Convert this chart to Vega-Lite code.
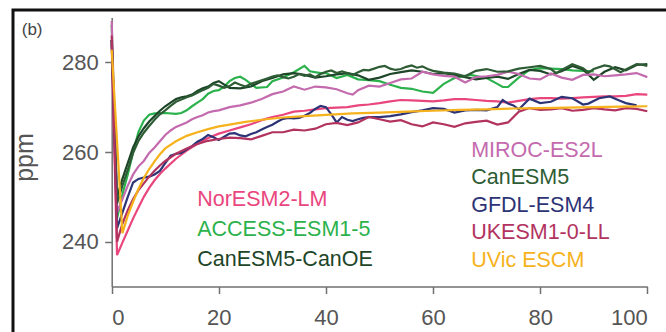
{
  "$schema": "https://vega.github.io/schema/vega-lite/v6.json",
  "autosize": "none",
  "width": 653,
  "height": 322,
  "padding": {"left": 13, "top": 10, "right": 0, "bottom": 0},
  "background": "white",
  "config": {
    "view": {"stroke": "#111111", "strokeWidth": 3, "strokeDash": [653, 975, 323, 1], "strokeCap": "square"},
    "axis": {"grid": false, "domainColor": "#707070", "domainWidth": 1.5, "tickColor": "#707070", "tickWidth": 1.5, "tickSize": 7, "labelFont": "Liberation Sans", "labelFontSize": 22, "labelColor": "#555555", "titleFont": "Liberation Sans", "titleFontSize": 25, "titleFontWeight": "normal", "titleColor": "#555555"}
  },
  "datasets": {
    "series": [
    {"m":"NorESM2-LM","t":0,"v":284},{"m":"NorESM2-LM","t":1,"v":237},{"m":"NorESM2-LM","t":2,"v":239.8},{"m":"NorESM2-LM","t":3,"v":242.5},{"m":"NorESM2-LM","t":4,"v":245.2},{"m":"NorESM2-LM","t":5,"v":247.6},{"m":"NorESM2-LM","t":6,"v":250},{"m":"NorESM2-LM","t":7,"v":252},{"m":"NorESM2-LM","t":8,"v":253.7},{"m":"NorESM2-LM","t":9,"v":255.1},{"m":"NorESM2-LM","t":10,"v":256.3},{"m":"NorESM2-LM","t":12,"v":258.5},{"m":"NorESM2-LM","t":14,"v":260.3},{"m":"NorESM2-LM","t":16,"v":261.8},{"m":"NorESM2-LM","t":18,"v":263.1},{"m":"NorESM2-LM","t":20,"v":264.1},{"m":"NorESM2-LM","t":22,"v":264.8},{"m":"NorESM2-LM","t":24,"v":265.5},{"m":"NorESM2-LM","t":26,"v":266.2},{"m":"NorESM2-LM","t":28,"v":267.1},{"m":"NorESM2-LM","t":30,"v":267.8},{"m":"NorESM2-LM","t":32,"v":268.3},{"m":"NorESM2-LM","t":34,"v":269},{"m":"NorESM2-LM","t":36,"v":269.2},{"m":"NorESM2-LM","t":38,"v":269.5},{"m":"NorESM2-LM","t":40,"v":269.8},{"m":"NorESM2-LM","t":42,"v":269.9},{"m":"NorESM2-LM","t":44,"v":270},{"m":"NorESM2-LM","t":46,"v":270.4},{"m":"NorESM2-LM","t":48,"v":270.6},{"m":"NorESM2-LM","t":50,"v":270.9},{"m":"NorESM2-LM","t":52,"v":271.3},{"m":"NorESM2-LM","t":54,"v":271.6},{"m":"NorESM2-LM","t":56,"v":271.5},{"m":"NorESM2-LM","t":58,"v":271.4},{"m":"NorESM2-LM","t":60,"v":271.3},{"m":"NorESM2-LM","t":62,"v":271.5},{"m":"NorESM2-LM","t":64,"v":271.8},{"m":"NorESM2-LM","t":66,"v":271.8},{"m":"NorESM2-LM","t":68,"v":271.6},{"m":"NorESM2-LM","t":70,"v":271.4},{"m":"NorESM2-LM","t":72,"v":271.3},{"m":"NorESM2-LM","t":74,"v":271},{"m":"NorESM2-LM","t":76,"v":271.4},{"m":"NorESM2-LM","t":78,"v":271.8},{"m":"NorESM2-LM","t":80,"v":272},{"m":"NorESM2-LM","t":82,"v":272},{"m":"NorESM2-LM","t":84,"v":271.9},{"m":"NorESM2-LM","t":86,"v":272},{"m":"NorESM2-LM","t":88,"v":272.2},{"m":"NorESM2-LM","t":90,"v":272.3},{"m":"NorESM2-LM","t":92,"v":272.4},{"m":"NorESM2-LM","t":94,"v":272.4},{"m":"NorESM2-LM","t":96,"v":272.5},{"m":"NorESM2-LM","t":98,"v":272.9},{"m":"NorESM2-LM","t":100,"v":272.8},

    {"m":"ACCESS-ESM1-5","t":0,"v":288.4},{"m":"ACCESS-ESM1-5","t":1,"v":245.2},{"m":"ACCESS-ESM1-5","t":2,"v":250.5},{"m":"ACCESS-ESM1-5","t":3,"v":255},{"m":"ACCESS-ESM1-5","t":4,"v":260},{"m":"ACCESS-ESM1-5","t":5,"v":264.5},{"m":"ACCESS-ESM1-5","t":6,"v":267},{"m":"ACCESS-ESM1-5","t":7,"v":268.3},{"m":"ACCESS-ESM1-5","t":8,"v":268.6},{"m":"ACCESS-ESM1-5","t":10,"v":268.7},{"m":"ACCESS-ESM1-5","t":12,"v":268.5},{"m":"ACCESS-ESM1-5","t":13,"v":268.7},{"m":"ACCESS-ESM1-5","t":14,"v":269.3},{"m":"ACCESS-ESM1-5","t":15,"v":270.2},{"m":"ACCESS-ESM1-5","t":16,"v":271},{"m":"ACCESS-ESM1-5","t":17,"v":271.8},{"m":"ACCESS-ESM1-5","t":18,"v":273},{"m":"ACCESS-ESM1-5","t":19,"v":273.6},{"m":"ACCESS-ESM1-5","t":20,"v":273.8},{"m":"ACCESS-ESM1-5","t":21,"v":274.6},{"m":"ACCESS-ESM1-5","t":22,"v":275.8},{"m":"ACCESS-ESM1-5","t":23,"v":276.5},{"m":"ACCESS-ESM1-5","t":24,"v":276.8},{"m":"ACCESS-ESM1-5","t":25,"v":276.1},{"m":"ACCESS-ESM1-5","t":27,"v":274.3},{"m":"ACCESS-ESM1-5","t":29,"v":274.5},{"m":"ACCESS-ESM1-5","t":30,"v":275.8},{"m":"ACCESS-ESM1-5","t":32,"v":276.6},{"m":"ACCESS-ESM1-5","t":34,"v":277.8},{"m":"ACCESS-ESM1-5","t":36,"v":279.2},{"m":"ACCESS-ESM1-5","t":37,"v":278},{"m":"ACCESS-ESM1-5","t":39,"v":277.6},{"m":"ACCESS-ESM1-5","t":40,"v":277.6},{"m":"ACCESS-ESM1-5","t":42,"v":276.5},{"m":"ACCESS-ESM1-5","t":44,"v":277.2},{"m":"ACCESS-ESM1-5","t":46,"v":276.2},{"m":"ACCESS-ESM1-5","t":48,"v":276},{"m":"ACCESS-ESM1-5","t":50,"v":275.8},{"m":"ACCESS-ESM1-5","t":52,"v":275},{"m":"ACCESS-ESM1-5","t":54,"v":274.3},{"m":"ACCESS-ESM1-5","t":56,"v":274.1},{"m":"ACCESS-ESM1-5","t":58,"v":273.5},{"m":"ACCESS-ESM1-5","t":60,"v":273.2},{"m":"ACCESS-ESM1-5","t":62,"v":275.2},{"m":"ACCESS-ESM1-5","t":64,"v":276.5},{"m":"ACCESS-ESM1-5","t":66,"v":277},{"m":"ACCESS-ESM1-5","t":67,"v":277.2},{"m":"ACCESS-ESM1-5","t":69,"v":276.7},{"m":"ACCESS-ESM1-5","t":70,"v":276.5},{"m":"ACCESS-ESM1-5","t":72,"v":275.2},{"m":"ACCESS-ESM1-5","t":73,"v":274.5},{"m":"ACCESS-ESM1-5","t":74,"v":274.5},{"m":"ACCESS-ESM1-5","t":76,"v":276.6},{"m":"ACCESS-ESM1-5","t":78,"v":278.3},{"m":"ACCESS-ESM1-5","t":80,"v":278.7},{"m":"ACCESS-ESM1-5","t":82,"v":278.6},{"m":"ACCESS-ESM1-5","t":84,"v":278.5},{"m":"ACCESS-ESM1-5","t":86,"v":278.2},{"m":"ACCESS-ESM1-5","t":88,"v":278.1},{"m":"ACCESS-ESM1-5","t":90,"v":278},

    {"m":"CanESM5-CanOE","t":0,"v":285},{"m":"CanESM5-CanOE","t":1,"v":250},{"m":"CanESM5-CanOE","t":2,"v":254},{"m":"CanESM5-CanOE","t":3,"v":257.5},{"m":"CanESM5-CanOE","t":4,"v":261},{"m":"CanESM5-CanOE","t":5,"v":263.5},{"m":"CanESM5-CanOE","t":6,"v":265.3},{"m":"CanESM5-CanOE","t":7,"v":266.8},{"m":"CanESM5-CanOE","t":8,"v":268},{"m":"CanESM5-CanOE","t":9,"v":269.2},{"m":"CanESM5-CanOE","t":10,"v":270.2},{"m":"CanESM5-CanOE","t":11,"v":271},{"m":"CanESM5-CanOE","t":12,"v":271.8},{"m":"CanESM5-CanOE","t":13,"v":272.2},{"m":"CanESM5-CanOE","t":14,"v":272.4},{"m":"CanESM5-CanOE","t":15,"v":272.8},{"m":"CanESM5-CanOE","t":16,"v":273.6},{"m":"CanESM5-CanOE","t":17,"v":274.2},{"m":"CanESM5-CanOE","t":18,"v":274.6},{"m":"CanESM5-CanOE","t":19,"v":275.4},{"m":"CanESM5-CanOE","t":20,"v":275.8},{"m":"CanESM5-CanOE","t":22,"v":274.3},{"m":"CanESM5-CanOE","t":24,"v":274.2},{"m":"CanESM5-CanOE","t":26,"v":274.6},{"m":"CanESM5-CanOE","t":28,"v":275.8},{"m":"CanESM5-CanOE","t":30,"v":276.5},{"m":"CanESM5-CanOE","t":32,"v":277.3},{"m":"CanESM5-CanOE","t":34,"v":277.6},{"m":"CanESM5-CanOE","t":36,"v":277.2},{"m":"CanESM5-CanOE","t":38,"v":276.6},{"m":"CanESM5-CanOE","t":40,"v":276.9},{"m":"CanESM5-CanOE","t":42,"v":277.3},{"m":"CanESM5-CanOE","t":44,"v":277.6},{"m":"CanESM5-CanOE","t":46,"v":277.1},{"m":"CanESM5-CanOE","t":48,"v":276.1},{"m":"CanESM5-CanOE","t":50,"v":276.6},{"m":"CanESM5-CanOE","t":52,"v":277.4},{"m":"CanESM5-CanOE","t":54,"v":277.8},{"m":"CanESM5-CanOE","t":56,"v":278.2},{"m":"CanESM5-CanOE","t":58,"v":277.9},{"m":"CanESM5-CanOE","t":60,"v":277.4},{"m":"CanESM5-CanOE","t":62,"v":277.6},{"m":"CanESM5-CanOE","t":64,"v":277.2},{"m":"CanESM5-CanOE","t":66,"v":276.7},{"m":"CanESM5-CanOE","t":68,"v":276.2},{"m":"CanESM5-CanOE","t":70,"v":276.5},{"m":"CanESM5-CanOE","t":72,"v":276.8},{"m":"CanESM5-CanOE","t":74,"v":276.3},{"m":"CanESM5-CanOE","t":76,"v":277.4},{"m":"CanESM5-CanOE","t":78,"v":278.3},{"m":"CanESM5-CanOE","t":80,"v":278.1},{"m":"CanESM5-CanOE","t":82,"v":277.3},{"m":"CanESM5-CanOE","t":84,"v":278},{"m":"CanESM5-CanOE","t":86,"v":279.2},{"m":"CanESM5-CanOE","t":88,"v":278.4},{"m":"CanESM5-CanOE","t":90,"v":276.1},{"m":"CanESM5-CanOE","t":92,"v":277.9},{"m":"CanESM5-CanOE","t":94,"v":278.9},{"m":"CanESM5-CanOE","t":96,"v":278.2},{"m":"CanESM5-CanOE","t":98,"v":279.4},{"m":"CanESM5-CanOE","t":100,"v":279.6},

    {"m":"MIROC-ES2L","t":0,"v":289.2},{"m":"MIROC-ES2L","t":1,"v":246.5},{"m":"MIROC-ES2L","t":2,"v":249.5},{"m":"MIROC-ES2L","t":3,"v":252.5},{"m":"MIROC-ES2L","t":4,"v":255},{"m":"MIROC-ES2L","t":5,"v":256.8},{"m":"MIROC-ES2L","t":6,"v":258},{"m":"MIROC-ES2L","t":7,"v":259.8},{"m":"MIROC-ES2L","t":8,"v":261},{"m":"MIROC-ES2L","t":9,"v":262.4},{"m":"MIROC-ES2L","t":10,"v":263.8},{"m":"MIROC-ES2L","t":11,"v":264.8},{"m":"MIROC-ES2L","t":12,"v":265.6},{"m":"MIROC-ES2L","t":13,"v":266.1},{"m":"MIROC-ES2L","t":14,"v":266.6},{"m":"MIROC-ES2L","t":15,"v":267.3},{"m":"MIROC-ES2L","t":16,"v":267.8},{"m":"MIROC-ES2L","t":17,"v":268.2},{"m":"MIROC-ES2L","t":18,"v":268.8},{"m":"MIROC-ES2L","t":19,"v":269.1},{"m":"MIROC-ES2L","t":20,"v":269.3},{"m":"MIROC-ES2L","t":22,"v":270},{"m":"MIROC-ES2L","t":24,"v":270.4},{"m":"MIROC-ES2L","t":26,"v":271},{"m":"MIROC-ES2L","t":28,"v":271.8},{"m":"MIROC-ES2L","t":30,"v":272.9},{"m":"MIROC-ES2L","t":32,"v":273.5},{"m":"MIROC-ES2L","t":34,"v":274.6},{"m":"MIROC-ES2L","t":36,"v":273.9},{"m":"MIROC-ES2L","t":38,"v":274.6},{"m":"MIROC-ES2L","t":40,"v":274.4},{"m":"MIROC-ES2L","t":42,"v":274},{"m":"MIROC-ES2L","t":44,"v":273.1},{"m":"MIROC-ES2L","t":45,"v":272.8},{"m":"MIROC-ES2L","t":46,"v":273.8},{"m":"MIROC-ES2L","t":48,"v":274.8},{"m":"MIROC-ES2L","t":50,"v":274.6},{"m":"MIROC-ES2L","t":52,"v":275.4},{"m":"MIROC-ES2L","t":54,"v":276.2},{"m":"MIROC-ES2L","t":56,"v":276.4},{"m":"MIROC-ES2L","t":58,"v":277.9},{"m":"MIROC-ES2L","t":60,"v":277.3},{"m":"MIROC-ES2L","t":62,"v":277},{"m":"MIROC-ES2L","t":64,"v":276.8},{"m":"MIROC-ES2L","t":66,"v":275.5},{"m":"MIROC-ES2L","t":68,"v":276.7},{"m":"MIROC-ES2L","t":70,"v":276.9},{"m":"MIROC-ES2L","t":72,"v":277.2},{"m":"MIROC-ES2L","t":74,"v":277.9},{"m":"MIROC-ES2L","t":76,"v":277.4},{"m":"MIROC-ES2L","t":78,"v":276.4},{"m":"MIROC-ES2L","t":80,"v":276.2},{"m":"MIROC-ES2L","t":82,"v":277.5},{"m":"MIROC-ES2L","t":84,"v":276.6},{"m":"MIROC-ES2L","t":86,"v":276.1},{"m":"MIROC-ES2L","t":88,"v":277.2},{"m":"MIROC-ES2L","t":90,"v":277.3},{"m":"MIROC-ES2L","t":92,"v":276.9},{"m":"MIROC-ES2L","t":94,"v":277.1},{"m":"MIROC-ES2L","t":96,"v":277.3},{"m":"MIROC-ES2L","t":98,"v":277.6},{"m":"MIROC-ES2L","t":100,"v":276.7},

    {"m":"CanESM5","t":0,"v":285},{"m":"CanESM5","t":1,"v":248.5},{"m":"CanESM5","t":2,"v":252.5},{"m":"CanESM5","t":3,"v":256},{"m":"CanESM5","t":4,"v":259.8},{"m":"CanESM5","t":5,"v":262.5},{"m":"CanESM5","t":6,"v":264.3},{"m":"CanESM5","t":7,"v":265.8},{"m":"CanESM5","t":8,"v":267.2},{"m":"CanESM5","t":9,"v":268.4},{"m":"CanESM5","t":10,"v":269.3},{"m":"CanESM5","t":11,"v":270.3},{"m":"CanESM5","t":12,"v":271.2},{"m":"CanESM5","t":13,"v":271.7},{"m":"CanESM5","t":14,"v":272.2},{"m":"CanESM5","t":15,"v":272.6},{"m":"CanESM5","t":16,"v":273.2},{"m":"CanESM5","t":17,"v":273.8},{"m":"CanESM5","t":18,"v":274.3},{"m":"CanESM5","t":19,"v":275.2},{"m":"CanESM5","t":20,"v":274.8},{"m":"CanESM5","t":21,"v":274.3},{"m":"CanESM5","t":22,"v":274.7},{"m":"CanESM5","t":23,"v":275.5},{"m":"CanESM5","t":24,"v":275},{"m":"CanESM5","t":25,"v":274.6},{"m":"CanESM5","t":26,"v":275.2},{"m":"CanESM5","t":27,"v":275.6},{"m":"CanESM5","t":28,"v":276},{"m":"CanESM5","t":29,"v":276.4},{"m":"CanESM5","t":30,"v":276.8},{"m":"CanESM5","t":31,"v":277.1},{"m":"CanESM5","t":32,"v":276.7},{"m":"CanESM5","t":33,"v":276.4},{"m":"CanESM5","t":34,"v":276.8},{"m":"CanESM5","t":35,"v":277.4},{"m":"CanESM5","t":36,"v":277},{"m":"CanESM5","t":37,"v":277.3},{"m":"CanESM5","t":38,"v":276.7},{"m":"CanESM5","t":39,"v":277.4},{"m":"CanESM5","t":40,"v":277.9},{"m":"CanESM5","t":41,"v":278.2},{"m":"CanESM5","t":42,"v":277.6},{"m":"CanESM5","t":43,"v":278},{"m":"CanESM5","t":44,"v":277.6},{"m":"CanESM5","t":45,"v":277.2},{"m":"CanESM5","t":46,"v":277.8},{"m":"CanESM5","t":47,"v":278.3},{"m":"CanESM5","t":48,"v":278.2},{"m":"CanESM5","t":49,"v":278.6},{"m":"CanESM5","t":50,"v":279},{"m":"CanESM5","t":51,"v":279.2},{"m":"CanESM5","t":52,"v":278.6},{"m":"CanESM5","t":53,"v":278.3},{"m":"CanESM5","t":54,"v":278.5},{"m":"CanESM5","t":55,"v":279},{"m":"CanESM5","t":56,"v":279.3},{"m":"CanESM5","t":57,"v":278.8},{"m":"CanESM5","t":58,"v":279.1},{"m":"CanESM5","t":59,"v":278.5},{"m":"CanESM5","t":60,"v":278.1},{"m":"CanESM5","t":62,"v":277.7},{"m":"CanESM5","t":64,"v":277.5},{"m":"CanESM5","t":66,"v":276.9},{"m":"CanESM5","t":67,"v":277.5},{"m":"CanESM5","t":68,"v":278.1},{"m":"CanESM5","t":70,"v":278.5},{"m":"CanESM5","t":72,"v":277.9},{"m":"CanESM5","t":74,"v":278},{"m":"CanESM5","t":76,"v":278.6},{"m":"CanESM5","t":78,"v":278.9},{"m":"CanESM5","t":80,"v":279.2},{"m":"CanESM5","t":82,"v":278.5},{"m":"CanESM5","t":83,"v":277.6},{"m":"CanESM5","t":84,"v":278.3},{"m":"CanESM5","t":86,"v":279.6},{"m":"CanESM5","t":88,"v":278.7},{"m":"CanESM5","t":89,"v":277.7},{"m":"CanESM5","t":90,"v":278.5},{"m":"CanESM5","t":92,"v":279.3},{"m":"CanESM5","t":93,"v":279.1},{"m":"CanESM5","t":95,"v":277.8},{"m":"CanESM5","t":96,"v":278.4},{"m":"CanESM5","t":98,"v":279.6},{"m":"CanESM5","t":99,"v":279.5},{"m":"CanESM5","t":100,"v":279.2},

    {"m":"GFDL-ESM4","t":0,"v":285},{"m":"GFDL-ESM4","t":1,"v":243},{"m":"GFDL-ESM4","t":2,"v":246.5},{"m":"GFDL-ESM4","t":3,"v":250},{"m":"GFDL-ESM4","t":4,"v":253.2},{"m":"GFDL-ESM4","t":5,"v":254},{"m":"GFDL-ESM4","t":6,"v":254.3},{"m":"GFDL-ESM4","t":7,"v":254.5},{"m":"GFDL-ESM4","t":8,"v":255},{"m":"GFDL-ESM4","t":9,"v":255.8},{"m":"GFDL-ESM4","t":10,"v":257.5},{"m":"GFDL-ESM4","t":11,"v":259.2},{"m":"GFDL-ESM4","t":12,"v":259.6},{"m":"GFDL-ESM4","t":13,"v":259.8},{"m":"GFDL-ESM4","t":14,"v":260.6},{"m":"GFDL-ESM4","t":15,"v":261.3},{"m":"GFDL-ESM4","t":16,"v":262.3},{"m":"GFDL-ESM4","t":17,"v":262.9},{"m":"GFDL-ESM4","t":18,"v":263.8},{"m":"GFDL-ESM4","t":19,"v":263.3},{"m":"GFDL-ESM4","t":20,"v":262.7},{"m":"GFDL-ESM4","t":21,"v":263.4},{"m":"GFDL-ESM4","t":22,"v":264.1},{"m":"GFDL-ESM4","t":23,"v":264.2},{"m":"GFDL-ESM4","t":24,"v":263.7},{"m":"GFDL-ESM4","t":25,"v":263.5},{"m":"GFDL-ESM4","t":26,"v":264},{"m":"GFDL-ESM4","t":27,"v":264.4},{"m":"GFDL-ESM4","t":28,"v":265},{"m":"GFDL-ESM4","t":29,"v":265.6},{"m":"GFDL-ESM4","t":30,"v":266.1},{"m":"GFDL-ESM4","t":31,"v":266.8},{"m":"GFDL-ESM4","t":32,"v":267.4},{"m":"GFDL-ESM4","t":33,"v":267.6},{"m":"GFDL-ESM4","t":34,"v":267.5},{"m":"GFDL-ESM4","t":35,"v":267.6},{"m":"GFDL-ESM4","t":36,"v":268.1},{"m":"GFDL-ESM4","t":37,"v":268.7},{"m":"GFDL-ESM4","t":38,"v":269.6},{"m":"GFDL-ESM4","t":39,"v":270.3},{"m":"GFDL-ESM4","t":40,"v":270},{"m":"GFDL-ESM4","t":41,"v":268.4},{"m":"GFDL-ESM4","t":42,"v":266.6},{"m":"GFDL-ESM4","t":43,"v":267.8},{"m":"GFDL-ESM4","t":44,"v":267.2},{"m":"GFDL-ESM4","t":45,"v":266.9},{"m":"GFDL-ESM4","t":46,"v":267.3},{"m":"GFDL-ESM4","t":47,"v":267.6},{"m":"GFDL-ESM4","t":48,"v":267.8},{"m":"GFDL-ESM4","t":50,"v":267.8},{"m":"GFDL-ESM4","t":52,"v":268},{"m":"GFDL-ESM4","t":54,"v":268.4},{"m":"GFDL-ESM4","t":56,"v":268.9},{"m":"GFDL-ESM4","t":58,"v":269.3},{"m":"GFDL-ESM4","t":60,"v":269.8},{"m":"GFDL-ESM4","t":62,"v":269.6},{"m":"GFDL-ESM4","t":64,"v":268.8},{"m":"GFDL-ESM4","t":66,"v":269.3},{"m":"GFDL-ESM4","t":68,"v":269.4},{"m":"GFDL-ESM4","t":70,"v":269.3},{"m":"GFDL-ESM4","t":72,"v":270},{"m":"GFDL-ESM4","t":73,"v":271.6},{"m":"GFDL-ESM4","t":74,"v":270.8},{"m":"GFDL-ESM4","t":75,"v":270.4},{"m":"GFDL-ESM4","t":76,"v":269.5},{"m":"GFDL-ESM4","t":78,"v":271.9},{"m":"GFDL-ESM4","t":80,"v":270.9},{"m":"GFDL-ESM4","t":82,"v":271.2},{"m":"GFDL-ESM4","t":84,"v":272.3},{"m":"GFDL-ESM4","t":86,"v":272},{"m":"GFDL-ESM4","t":88,"v":270.6},{"m":"GFDL-ESM4","t":89,"v":270.8},{"m":"GFDL-ESM4","t":91,"v":272},{"m":"GFDL-ESM4","t":93,"v":272.4},{"m":"GFDL-ESM4","t":95,"v":271.4},{"m":"GFDL-ESM4","t":96,"v":270.9},{"m":"GFDL-ESM4","t":98,"v":270.4},

    {"m":"UKESM1-0-LL","t":0,"v":286},{"m":"UKESM1-0-LL","t":1,"v":240},{"m":"UKESM1-0-LL","t":2,"v":244},{"m":"UKESM1-0-LL","t":3,"v":247},{"m":"UKESM1-0-LL","t":4,"v":249.5},{"m":"UKESM1-0-LL","t":5,"v":251.5},{"m":"UKESM1-0-LL","t":6,"v":253},{"m":"UKESM1-0-LL","t":7,"v":254.5},{"m":"UKESM1-0-LL","t":8,"v":255.8},{"m":"UKESM1-0-LL","t":9,"v":257},{"m":"UKESM1-0-LL","t":10,"v":258},{"m":"UKESM1-0-LL","t":12,"v":259.6},{"m":"UKESM1-0-LL","t":14,"v":260.8},{"m":"UKESM1-0-LL","t":16,"v":261.8},{"m":"UKESM1-0-LL","t":18,"v":262.5},{"m":"UKESM1-0-LL","t":20,"v":262.9},{"m":"UKESM1-0-LL","t":22,"v":263.2},{"m":"UKESM1-0-LL","t":24,"v":263.1},{"m":"UKESM1-0-LL","t":26,"v":262.8},{"m":"UKESM1-0-LL","t":28,"v":263.6},{"m":"UKESM1-0-LL","t":30,"v":264.4},{"m":"UKESM1-0-LL","t":32,"v":264.4},{"m":"UKESM1-0-LL","t":34,"v":265},{"m":"UKESM1-0-LL","t":36,"v":264.8},{"m":"UKESM1-0-LL","t":38,"v":265.2},{"m":"UKESM1-0-LL","t":40,"v":266.2},{"m":"UKESM1-0-LL","t":42,"v":266.5},{"m":"UKESM1-0-LL","t":44,"v":266},{"m":"UKESM1-0-LL","t":46,"v":266.6},{"m":"UKESM1-0-LL","t":48,"v":267.8},{"m":"UKESM1-0-LL","t":50,"v":267.3},{"m":"UKESM1-0-LL","t":52,"v":266.8},{"m":"UKESM1-0-LL","t":54,"v":267.1},{"m":"UKESM1-0-LL","t":56,"v":266.2},{"m":"UKESM1-0-LL","t":58,"v":265.7},{"m":"UKESM1-0-LL","t":60,"v":266.6},{"m":"UKESM1-0-LL","t":62,"v":266.2},{"m":"UKESM1-0-LL","t":64,"v":265.6},{"m":"UKESM1-0-LL","t":66,"v":266.4},{"m":"UKESM1-0-LL","t":68,"v":266.7},{"m":"UKESM1-0-LL","t":70,"v":267},{"m":"UKESM1-0-LL","t":72,"v":266.1},{"m":"UKESM1-0-LL","t":74,"v":266.6},{"m":"UKESM1-0-LL","t":76,"v":269},{"m":"UKESM1-0-LL","t":78,"v":269.8},{"m":"UKESM1-0-LL","t":80,"v":269.4},{"m":"UKESM1-0-LL","t":82,"v":269.5},{"m":"UKESM1-0-LL","t":84,"v":269.8},{"m":"UKESM1-0-LL","t":86,"v":269.2},{"m":"UKESM1-0-LL","t":88,"v":269.4},{"m":"UKESM1-0-LL","t":90,"v":269.8},{"m":"UKESM1-0-LL","t":92,"v":269.5},{"m":"UKESM1-0-LL","t":94,"v":269.3},{"m":"UKESM1-0-LL","t":96,"v":269.8},{"m":"UKESM1-0-LL","t":98,"v":269.6},{"m":"UKESM1-0-LL","t":100,"v":269.1},

    {"m":"UVic ESCM","t":0,"v":282.8},{"m":"UVic ESCM","t":2,"v":241.9},{"m":"UVic ESCM","t":3,"v":245.8},{"m":"UVic ESCM","t":4,"v":248.9},{"m":"UVic ESCM","t":5,"v":251.8},{"m":"UVic ESCM","t":6,"v":254.2},{"m":"UVic ESCM","t":7,"v":256.2},{"m":"UVic ESCM","t":8,"v":257.9},{"m":"UVic ESCM","t":9,"v":259.5},{"m":"UVic ESCM","t":10,"v":260.8},{"m":"UVic ESCM","t":12,"v":262.4},{"m":"UVic ESCM","t":14,"v":263.6},{"m":"UVic ESCM","t":16,"v":264.4},{"m":"UVic ESCM","t":18,"v":265.1},{"m":"UVic ESCM","t":20,"v":265.7},{"m":"UVic ESCM","t":22,"v":266.1},{"m":"UVic ESCM","t":25,"v":266.7},{"m":"UVic ESCM","t":28,"v":267.2},{"m":"UVic ESCM","t":32,"v":267.7},{"m":"UVic ESCM","t":36,"v":268},{"m":"UVic ESCM","t":40,"v":268.3},{"m":"UVic ESCM","t":45,"v":268.6},{"m":"UVic ESCM","t":50,"v":268.8},{"m":"UVic ESCM","t":55,"v":269},{"m":"UVic ESCM","t":60,"v":269.2},{"m":"UVic ESCM","t":65,"v":269.4},{"m":"UVic ESCM","t":70,"v":269.5},{"m":"UVic ESCM","t":75,"v":269.7},{"m":"UVic ESCM","t":80,"v":269.8},{"m":"UVic ESCM","t":85,"v":269.9},{"m":"UVic ESCM","t":90,"v":270},{"m":"UVic ESCM","t":95,"v":270.1},{"m":"UVic ESCM","t":100,"v":270.2}
    ],
    "panel": [{"label": "(b)"}]
  },
  "layer": [
    {
      "data": {"name": "series"},
      "transform": [{"filter": {"field": "m", "oneOf": ["NorESM2-LM", "ACCESS-ESM1-5", "CanESM5-CanOE"]}}],
      "mark": {"type": "line", "strokeWidth": 2.2, "clip": false},
      "encoding": {
        "x": {"field": "t", "type": "quantitative",
              "scale": {"domain": [0, 100], "range": [98.7, 634.3], "nice": false, "zero": false},
              "axis": {"values": [0, 20, 40, 60, 80, 100], "offset": -45.5, "labelPadding": 14, "title": null}},
        "y": {"field": "v", "type": "quantitative",
              "scale": {"domain": [230, 290], "range": [276.5, 7.5], "nice": false, "zero": false},
              "axis": {"values": [240, 260, 280], "offset": -98.7, "labelPadding": 6.5, "title": "ppm", "titleBaseline": "alphabetic", "titleAnchor": "middle", "titleX": -79, "titleY": 147}},
        "color": {"field": "m", "type": "nominal",
          "scale": {"domain": ["NorESM2-LM", "ACCESS-ESM1-5", "CanESM5-CanOE"], "range": ["#e9467e", "#2cb24c", "#1d4527"]},
          "legend": {"orient": "none", "legendX": 162.7, "legendY": 179.5, "title": null, "padding": 0,
            "labelFont": "Liberation Sans", "labelFontSize": 21.5, "labelLimit": 400, "labelOffset": 0,
            "symbolSize": 0, "symbolOpacity": 0, "symbolStrokeWidth": 0, "rowPadding": 7,
            "encode": {"labels": {"update": {"fill": {"signal": "datum.value === 'NorESM2-LM' ? '#e9467e' : datum.value === 'ACCESS-ESM1-5' ? '#2cb24c' : '#1d4527'"}}}}}}
      }
    },
    {
      "data": {"name": "series"},
      "transform": [{"filter": {"field": "m", "oneOf": ["MIROC-ES2L", "CanESM5", "GFDL-ESM4", "UKESM1-0-LL", "UVic ESCM"]}}],
      "mark": {"type": "line", "strokeWidth": 2.2, "clip": false},
      "encoding": {
        "x": {"field": "t", "type": "quantitative"},
        "y": {"field": "v", "type": "quantitative"},
        "color": {"field": "m", "type": "nominal",
          "scale": {"domain": ["MIROC-ES2L", "CanESM5", "GFDL-ESM4", "UKESM1-0-LL", "UVic ESCM"], "range": ["#c46aae", "#2e5c35", "#2d3476", "#b2335f", "#f6b21c"]},
          "legend": {"orient": "none", "legendX": 436.7, "legendY": 130, "title": null, "padding": 0,
            "labelFont": "Liberation Sans", "labelFontSize": 21.5, "labelLimit": 400, "labelOffset": 0,
            "symbolSize": 0, "symbolOpacity": 0, "symbolStrokeWidth": 0, "rowPadding": 4.5,
            "encode": {"labels": {"update": {"fill": {"signal": "datum.value === 'MIROC-ES2L' ? '#c46aae' : datum.value === 'CanESM5' ? '#2e5c35' : datum.value === 'GFDL-ESM4' ? '#2d3476' : datum.value === 'UKESM1-0-LL' ? '#b2335f' : '#f6b21c'"}}}}}}
      }
    },
    {
      "data": {"name": "panel"},
      "mark": {"type": "text", "align": "left", "baseline": "alphabetic", "fontSize": 17, "font": "Liberation Sans", "fill": "#444444", "clip": false},
      "encoding": {
        "x": {"datum": -16.8, "type": "quantitative"},
        "y": {"datum": 286, "type": "quantitative"},
        "text": {"field": "label", "type": "nominal"}
      }
    }
  ],
  "resolve": {"scale": {"color": "independent"}, "legend": {"color": "independent"}}
}
